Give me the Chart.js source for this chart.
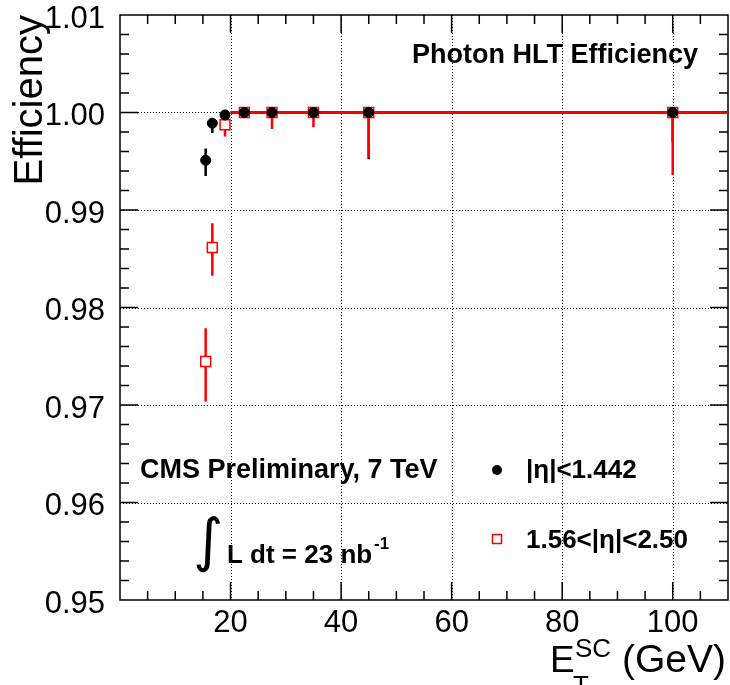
<!DOCTYPE html>
<html>
<head>
<meta charset="utf-8">
<script src="https://cdn.jsdelivr.net/npm/chart.js@4.4.1/dist/chart.umd.min.js"></script>
<style>
  html, body { margin: 0; padding: 0; background: #fff; }
  #wrap { width: 730px; height: 685px; }
</style>
</head>
<body>
<div id="wrap"><canvas id="myChart" width="730" height="685"></canvas></div>
<script>
// bin centres (GeV)
var etBins = [15.5, 16.7, 19, 22.5, 27.5, 35, 45, 100];
// bin edges used for the horizontal bars (only above 20 GeV are visible)
var binLow  = [null, null, null, 20, 25, 30, 40, 50];
var binHigh = [null, null, null, 25, 30, 40, 50, 150];

// |eta| < 1.442
var effBarrel     = [0.9951, 0.9989, 0.99975, 1, 1, 1, 1, 1];
var errBarrelUp   = [0.0012, 0.0005, 0.0002, 0, 0, 0, 0, 0];
var errBarrelDown = [0.0016, 0.0010, 0.0004, 0.0002, 0.0006, 0.0006, 0.0048, 0.003];

// 1.56 < |eta| < 2.50
var effEndcap     = [0.97446, 0.98615, 0.99874, 1, 1, 1, 1, 1];
var errEndcapUp   = [0.0034, 0.0025, 0.0006, 0, 0, 0, 0, 0];
var errEndcapDown = [0.0041, 0.0029, 0.0012, 0.0003, 0.0017, 0.0015, 0.0046, 0.0064];

// axes
var xTickVals = [20, 40, 60, 80, 100];
var yTickVals = [0.95, 0.96, 0.97, 0.98, 0.99, 1.00, 1.01];

var FONT = "'Liberation Sans', Arial, Helvetica, sans-serif";

function makePoints(ys) {
    var pts = [];
    for (var i = 0; i < etBins.length; i++) {
        pts.push({x: etBins[i], y: ys[i]});
    }
    return pts;
}

//no extra room for the edge labels, the frame is fixed
function noPadding(s) {
    s.paddingLeft = 0;
    s.paddingRight = 0;
    s.paddingTop = 0;
    s.paddingBottom = 0;
}

//frame, dotted grid and inner ticks like ROOT
var framePlugin = {
    id: 'frame',
    beforeDatasetsDraw: function(chart) {
        var ctx = chart.ctx;
        var a = chart.chartArea;
        var xs = chart.scales.x;
        var ys = chart.scales.y;
        ctx.save();

        //grid
        ctx.strokeStyle = '#000';
        ctx.lineWidth = 1;
        ctx.setLineDash([1, 2]);
        ctx.beginPath();
        xTickVals.forEach(function(v) {
            var px = Math.round(xs.getPixelForValue(v)) + 0.5;
            ctx.moveTo(px, a.top);
            ctx.lineTo(px, a.bottom);
        });
        yTickVals.forEach(function(v) {
            if (v <= 0.9501 || v >= 1.0099) return;
            var py = Math.round(ys.getPixelForValue(v)) + 0.5;
            ctx.moveTo(a.left, py);
            ctx.lineTo(a.right, py);
        });
        ctx.stroke();
        ctx.setLineDash([]);

        //ticks on all four sides
        ctx.lineWidth = 1.5;
        ctx.beginPath();
        for (var xv = 5; xv < 110; xv += 5) {
            var px = xs.getPixelForValue(xv);
            var len = (xv % 20 == 0) ? 18 : 9;
            ctx.moveTo(px, a.bottom);
            ctx.lineTo(px, a.bottom - len);
            ctx.moveTo(px, a.top);
            ctx.lineTo(px, a.top + len);
        }
        for (var k = 1; k < 30; k++) {
            var yv = 0.95 + k * 0.002;
            var py = ys.getPixelForValue(yv);
            var len2 = (k % 5 == 0) ? 18 : 9;
            ctx.moveTo(a.left, py);
            ctx.lineTo(a.left + len2, py);
            ctx.moveTo(a.right, py);
            ctx.lineTo(a.right - len2, py);
        }
        ctx.stroke();

        //frame
        ctx.lineWidth = 1.5;
        ctx.strokeRect(a.left, a.top, a.right - a.left, a.bottom - a.top);

        //error bars, barrel below endcap
        ctx.beginPath();
        ctx.rect(a.left, a.top, a.right - a.left, a.bottom - a.top);
        ctx.clip();
        drawErrors(ctx, xs, ys, effBarrel, errBarrelUp, errBarrelDown, '#000');
        drawErrors(ctx, xs, ys, effEndcap, errEndcapUp, errEndcapDown, '#ff0000');
        ctx.restore();
    }
};

function drawErrors(ctx, xs, ys, eff, up, down, color) {
    ctx.strokeStyle = color;
    ctx.lineWidth = 2.5;
    ctx.beginPath();
    for (var i = 0; i < etBins.length; i++) {
        var px = xs.getPixelForValue(etBins[i]);
        ctx.moveTo(px, ys.getPixelForValue(eff[i] + up[i]));
        ctx.lineTo(px, ys.getPixelForValue(eff[i] - down[i]));
        if (binLow[i] != null) {
            var py = ys.getPixelForValue(eff[i]);
            ctx.moveTo(xs.getPixelForValue(binLow[i]), py);
            ctx.lineTo(xs.getPixelForValue(binHigh[i]), py);
        }
    }
    ctx.stroke();
}

//texts, legend and axis titles
var textPlugin = {
    id: 'texts',
    afterDraw: function(chart) {
        var ctx = chart.ctx;
        ctx.save();
        ctx.fillStyle = '#000';
        ctx.textAlign = 'left';
        ctx.textBaseline = 'alphabetic';

        ctx.font = 'bold 27px ' + FONT;
        ctx.fillText('Photon HLT Efficiency', 412, 63);
        ctx.fillText('CMS Preliminary, 7 TeV', 140, 478);

        //integral
        ctx.font = '58px "DejaVu Sans"';
        ctx.fillText('\u222B', 193, 560);
        ctx.font = 'bold 26px ' + FONT;
        ctx.fillText('L dt = 23 nb', 227, 563);
        ctx.font = 'bold 17px ' + FONT;
        ctx.fillText('-1', 374, 549);

        //legend
        ctx.beginPath();
        ctx.arc(497, 470, 5, 0, Math.PI * 2);
        ctx.fill();
        ctx.strokeStyle = '#ff0000';
        ctx.lineWidth = 1.5;
        ctx.strokeRect(492.5, 534.5, 9, 9);
        ctx.font = 'bold 26px ' + FONT;
        ctx.fillText('|\u03B7|<1.442', 526, 478);
        ctx.fillText('1.56<|\u03B7|<2.50', 526, 548);

        //x title
        ctx.font = '37px ' + FONT;
        ctx.fillText('E', 550, 672);
        ctx.font = '26px ' + FONT;
        ctx.fillText('SC', 575, 657);
        ctx.fillText('T', 573, 694);
        ctx.font = '39px ' + FONT;
        ctx.fillText('(GeV)', 622, 672);

        //y title
        ctx.translate(42, 15);
        ctx.rotate(-Math.PI / 2);
        ctx.textAlign = 'right';
        ctx.font = '40px ' + FONT;
        ctx.fillText('Efficiency', 0, 0);
        ctx.restore();
    }
};

var data = {
    datasets: [{
        label: '|\u03B7|<1.442',
        data: makePoints(effBarrel),
        pointStyle: 'circle',
        pointRadius: 5,
        pointBackgroundColor: '#000',
        pointBorderColor: '#000',
        pointBorderWidth: 1,
        showLine: false,
        order: 0
    }, {
        label: '1.56<|\u03B7|<2.50',
        data: makePoints(effEndcap),
        pointStyle: 'rect',
        pointRadius: 7,
        pointBackgroundColor: '#fff',
        pointBorderColor: '#ff0000',
        pointBorderWidth: 1.5,
        showLine: false,
        order: 1
    }]
};

var config = {
    type: 'scatter',
    data: data,
    options: {
        responsive: false,
        animation: false,
        events: [],
        layout: {
            autoPadding: false,
            padding: { top: 15, right: 2, left: 0, bottom: 0 }
        },
        plugins: {
            legend: { display: false },
            tooltip: { enabled: false }
        },
        scales: {
            x: {
                type: 'linear',
                min: 0,
                max: 110,
                afterBuildTicks: function(s) {
                    s.ticks = xTickVals.map(function(v) { return {value: v}; });
                },
                afterFit: function(s) { s.height = 85; noPadding(s); },
                grid: { display: false },
                border: { display: false },
                ticks: {
                    color: '#000',
                    padding: -3,
                    maxRotation: 0,
                    autoSkip: false,
                    font: { family: FONT, size: 31 }
                }
            },
            y: {
                type: 'linear',
                min: 0.95,
                max: 1.01,
                afterBuildTicks: function(s) {
                    s.ticks = yTickVals.map(function(v) { return {value: v}; });
                },
                afterFit: function(s) { s.width = 120; noPadding(s); },
                grid: { display: false },
                border: { display: false },
                ticks: {
                    color: '#000',
                    padding: 7,
                    labelOffset: 4,
                    autoSkip: false,
                    font: { family: FONT, size: 31 },
                    callback: function(v) { return v.toFixed(2); }
                }
            }
        }
    },
    plugins: [framePlugin, textPlugin]
};

var myChart = new Chart(document.getElementById('myChart'), config);
</script>
</body>
</html>
